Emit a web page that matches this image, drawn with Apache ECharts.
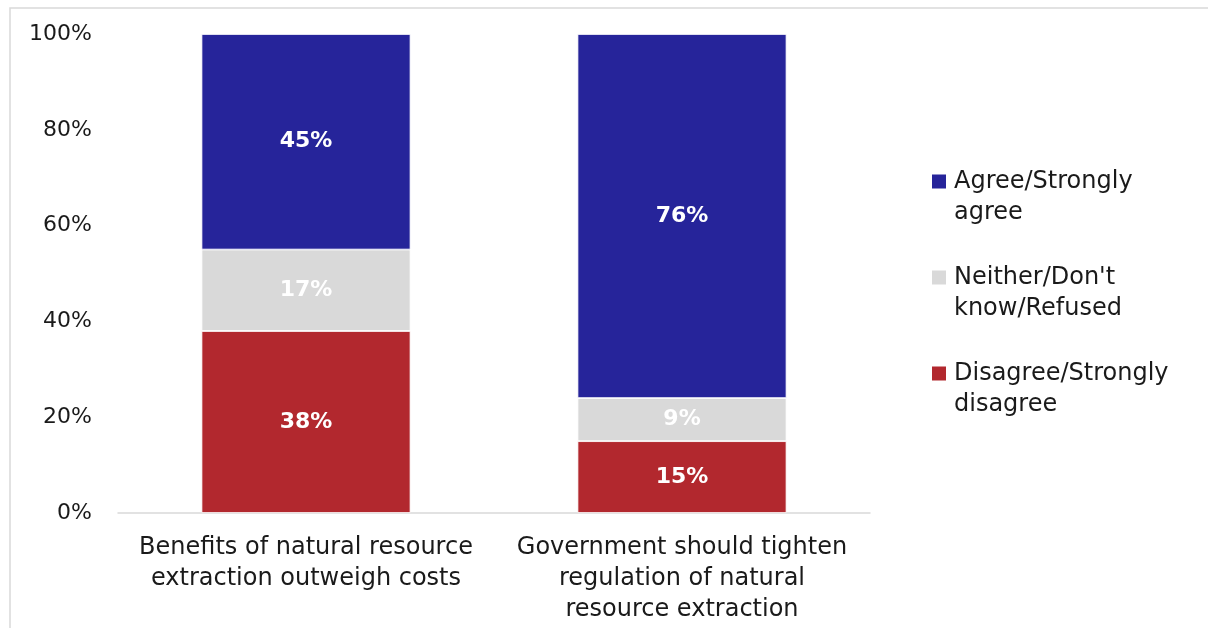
<!DOCTYPE html>
<html>
<head>
<meta charset="utf-8">
<script src="https://cdn.jsdelivr.net/npm/echarts@6/dist/echarts.min.js"></script>
<style>
  html, body { margin: 0; padding: 0; background: #fff; }
  #chart { width: 1208px; height: 628px; }
</style>
</head>
<body>
<div id="chart"></div>
<script>
// Survey statements (x-axis categories)
const categories = [
  'Benefits of natural resource\nextraction outweigh costs',
  'Government should tighten\nregulation of natural\nresource extraction'
];

// Response shares in percent, stacked bottom to top
const disagree = [38, 15];
const neither = [17, 9];
const agree = [45, 76];

const seriesNames = {
  agree: 'Agree/Strongly\nagree',
  neither: "Neither/Don't\nknow/Refused",
  disagree: 'Disagree/Strongly\ndisagree'
};

const yTicks = [0, 20, 40, 60, 80, 100];

const FONT = 'DejaVu Sans';
const colors = { agree: '#26249a', neither: '#d9d9d9', disagree: '#b2282e' };

// Legend swatch: a square next to the first text line; the two
// zero-area end points stretch the icon box to the full two-line height.
const LEGEND_LINE = 31;
const swatchIcon = 'path://M0 8.5L14 8.5L14 22.5L0 22.5Z M0 0L0.01 0Z M0 62L0.01 62Z';

function barSeries(name, data, color) {
  return {
    name: name,
    type: 'bar',
    stack: 'total',
    data: data,
    barWidth: 209,
    itemStyle: { color: color, borderColor: '#ffffff', borderWidth: 0.8 },
    label: {
      show: true,
      position: 'inside',
      formatter: p => p.value + '%',
      color: '#ffffff',
      fontFamily: FONT,
      fontWeight: 'bold',
      fontSize: 22
    }
  };
}

const chart = echarts.init(document.getElementById('chart'), null, { renderer: 'canvas' });

chart.setOption({
  backgroundColor: '#ffffff',
  animation: false,
  textStyle: { fontFamily: FONT },
  graphic: [{
    type: 'rect',
    shape: { x: 10, y: 8, width: 1220, height: 640 },
    style: { fill: 'none', stroke: '#d9d9d9', lineWidth: 1.5 },
    silent: true
  }],
  grid: { left: 118, right: 338, top: 34, bottom: 115, containLabel: false },
  legend: {
    orient: 'vertical',
    left: 932,
    top: 166,
    padding: 0,
    icon: swatchIcon,
    itemWidth: 14,
    itemHeight: 2 * LEGEND_LINE,
    itemGap: 34,
    itemStyle: { borderWidth: 0 },
    data: [seriesNames.agree, seriesNames.neither, seriesNames.disagree],
    textStyle: {
      fontFamily: FONT,
      fontSize: 24,
      color: '#1a1a1a',
      lineHeight: LEGEND_LINE,
      padding: [0, 0, 0, 3]
    }
  },
  xAxis: {
    type: 'category',
    data: categories,
    axisLine: { lineStyle: { color: '#d9d9d9', width: 1.5 } },
    axisTick: { show: false },
    axisLabel: {
      interval: 0,
      margin: 19,
      fontFamily: FONT,
      fontSize: 24,
      lineHeight: 31,
      color: '#1a1a1a'
    }
  },
  yAxis: {
    type: 'value',
    min: 0,
    max: 100,
    interval: 20,
    axisLine: { show: false },
    axisTick: { show: false },
    splitLine: { show: false },
    axisLabel: {
      margin: 26,
      fontFamily: FONT,
      fontSize: 22,
      color: '#1a1a1a',
      formatter: v => (yTicks.includes(v) ? v + '%' : '')
    }
  },
  series: [
    barSeries(seriesNames.disagree, disagree, colors.disagree),
    barSeries(seriesNames.neither, neither, colors.neither),
    barSeries(seriesNames.agree, agree, colors.agree)
  ]
});
</script>
</body>
</html>
